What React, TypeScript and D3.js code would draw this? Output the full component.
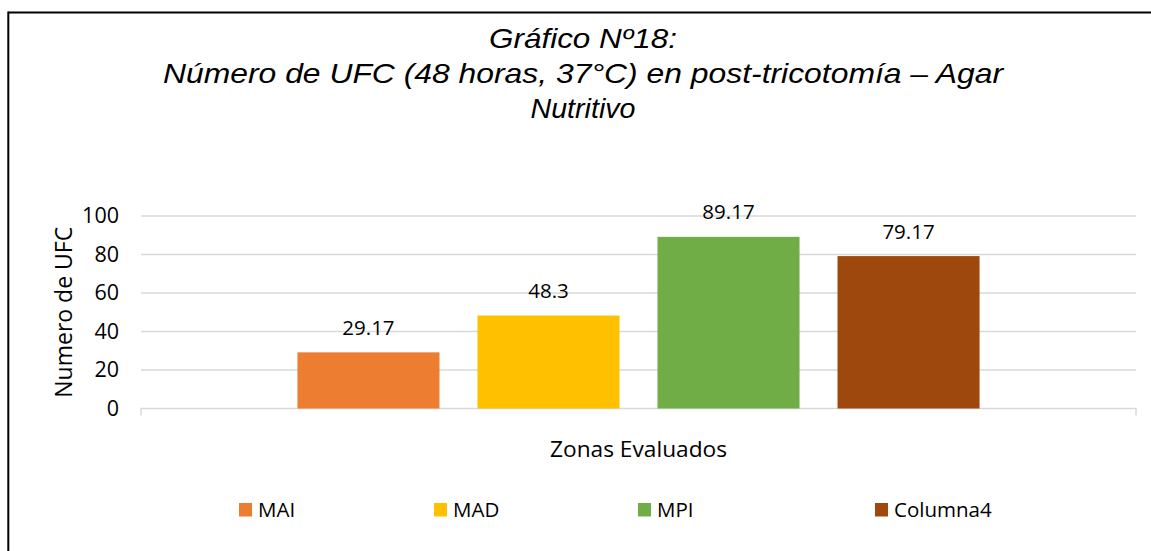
import React from "react";
import * as d3 from "d3";

const series = ["MAI", "MAD", "MPI", "Columna4"];
const values = [29.17, 48.3, 89.17, 79.17];
const colors = ["#ED7D31", "#FFC000", "#70AD47", "#9E480E"];
const titleLines = ["Gráfico Nº18:", "Número de UFC (48 horas, 37°C) en post-tricotomía – Agar", "Nutritivo"];
const yAxisTitle = "Numero de UFC";
const xAxisTitle = "Zonas Evaluados";

const W = 1151;
const H = 551;
const plot = { left: 141, right: 1136, top: 216, bottom: 408.5 };
const legendX = [239, 434, 638, 875];
const titleWidths = [188, 840, 105];
const titleBaselines = [47.5, 83, 118];

export default function App() {
  const y = d3.scaleLinear().domain([0, 100]).range([plot.bottom, plot.top]);
  const x = d3
    .scaleBand<string>()
    .domain(series)
    .range([plot.left, plot.right])
    .paddingInner(0.211)
    .paddingOuter(0.869);
  const ticks = y.ticks(5);
  const body = "'Open Sans', 'Noto Sans', sans-serif";
  const grid = "#d9d9d9";

  return (
    <svg
      width={W}
      height={H}
      style={{ position: "absolute", left: 0, top: 0, background: "#fff" }}
    >
      <rect x={0} y={0} width={W} height={H} fill="#fff" />
      {/* frame */}
      <line x1={8.3} y1={12.5} x2={W} y2={12.5} stroke="#000" strokeWidth={2} />
      <line x1={8.3} y1={11.5} x2={8.3} y2={H} stroke="#000" strokeWidth={2} />

      {/* title */}
      {titleLines.map((t, i) => (
        <text
          key={i}
          x={583}
          y={titleBaselines[i]}
          textAnchor="middle"
          fontFamily="'Liberation Sans', Arial, sans-serif"
          fontStyle="italic"
          fontSize={28}
          textLength={titleWidths[i]}
          lengthAdjust="spacingAndGlyphs"
          fill="#000"
        >
          {t}
        </text>
      ))}

      {/* gridlines */}
      {ticks
        .filter((t) => t !== 0)
        .map((t) => (
          <line
            key={t}
            x1={plot.left}
            x2={plot.right}
            y1={y(t)}
            y2={y(t)}
            stroke={grid}
            strokeWidth={1.5}
          />
        ))}
      {/* x axis line with end ticks */}
      <path
        d={`M${plot.left},${y(0) + 7}V${y(0)}H${plot.right}V${y(0) + 7}`}
        fill="none"
        stroke={grid}
        strokeWidth={1.5}
      />

      {/* y tick labels */}
      {ticks.map((t) => (
        <text
          key={t}
          x={119}
          y={y(t)}
          dy="0.34em"
          textAnchor="end"
          fontFamily={body}
          fontSize={21.5}
          fill="#000"
        >
          {t}
        </text>
      ))}

      {/* bars */}
      {series.map((s, i) => (
        <rect
          key={s}
          x={x(s)}
          y={y(values[i])}
          width={x.bandwidth()}
          height={y(0) - y(values[i])}
          fill={colors[i]}
        />
      ))}
      {/* value labels */}
      {series.map((s, i) => (
        <text
          key={s}
          x={(x(s) as number) + x.bandwidth() / 2}
          y={y(values[i]) - 17.5}
          textAnchor="middle"
          fontFamily={body}
          fontSize={20.5}
          fill="#000"
        >
          {String(values[i])}
        </text>
      ))}

      {/* axis titles */}
      <text
        transform={`translate(71.5,${(plot.top + plot.bottom) / 2}) rotate(-90)`}
        textAnchor="middle"
        fontFamily={body}
        fontSize={23}
        fill="#000"
      >
        {yAxisTitle}
      </text>
      <text
        x={(plot.left + plot.right) / 2}
        y={457}
        textAnchor="middle"
        fontFamily={body}
        fontSize={22.7}
        fill="#000"
      >
        {xAxisTitle}
      </text>

      {/* legend */}
      {series.map((s, i) => (
        <g key={s}>
          <rect x={legendX[i]} y={503} width={13} height={13.5} fill={colors[i]} />
          <text
            x={legendX[i] + 19}
            y={517}
            fontFamily={body}
            fontSize={20.5}
            fill="#000"
          >
            {s}
          </text>
        </g>
      ))}
    </svg>
  );
}
